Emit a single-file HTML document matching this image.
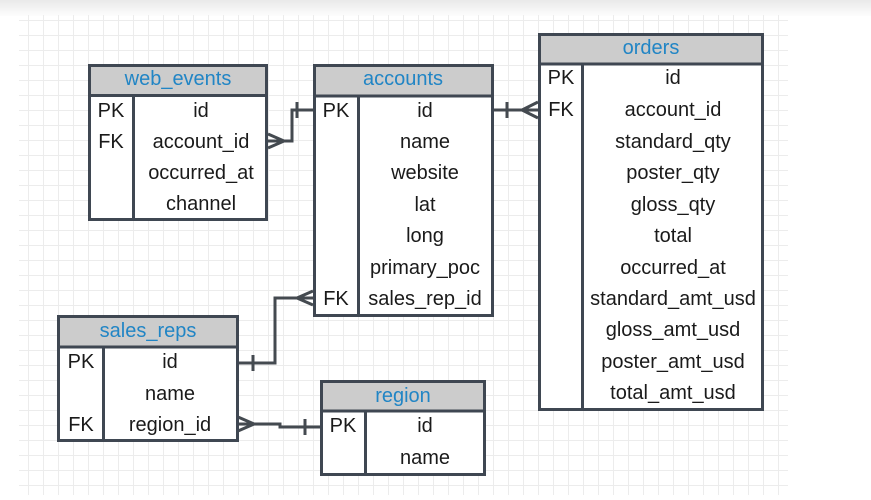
<!DOCTYPE html>
<html><head><meta charset="utf-8"><style>
html,body{margin:0;padding:0;background:#fff;}
svg{display:block;font-family:"Liberation Sans",sans-serif;}
</style></head><body>
<svg width="871" height="500" viewBox="0 0 871 500" xmlns="http://www.w3.org/2000/svg">
<defs>
<linearGradient id="tg" x1="0" y1="0" x2="0" y2="1"><stop offset="0" stop-color="#e9e9e9"/><stop offset="1" stop-color="#fdfdfd"/></linearGradient>
<pattern id="grid" x="13" y="5" width="15" height="15" patternUnits="userSpaceOnUse">
<path d="M0.5 0V15M0 0.5H15" stroke="#ececec" stroke-width="1" fill="none"/>
</pattern>
</defs>
<rect width="871" height="500" fill="#fff"/>
<rect width="871" height="16" fill="url(#tg)"/>
<rect x="19" y="15" width="769" height="480" fill="url(#grid)"/>

<g fill="none" stroke="#444a50" stroke-width="3">
<path d="M268 141H292V110H313"/>
<path d="M268 134L284 141L268 148"/>
<path d="M297 102V118"/>
<path d="M493 110H538"/>
<path d="M507 102V118"/>
<path d="M538 102L522 110L538 118"/>
<path d="M313 298H275V363H238"/>
<path d="M313 291L297 298L313 305"/>
<path d="M253 355V371"/>
<path d="M238 424H280V427H320"/>
<path d="M238 417L254 424L238 431"/>
<path d="M305 419V435"/>
</g>

<g font-size="20" text-anchor="middle">
<rect x="89.5" y="65.5" width="177" height="154" fill="#fff"/>
<rect x="89.5" y="65.5" width="177" height="30" fill="#cccccc"/>
<g stroke="#3f4752" stroke-width="3" fill="none"><rect x="89.5" y="65.5" width="177" height="154"/><path d="M89 95.5H267M133.5 95V220"/></g>
<text x="178" y="85" fill="#2185c5">web_events</text>
<g fill="#1a1a1a"><text x="111" y="117">PK</text><text x="111" y="148">FK</text>
<text x="201" y="117">id</text><text x="201" y="148">account_id</text><text x="201" y="179">occurred_at</text><text x="201" y="210">channel</text></g>

<rect x="314.5" y="65.5" width="178" height="250" fill="#fff"/>
<rect x="314.5" y="65.5" width="178" height="30" fill="#cccccc"/>
<g stroke="#3f4752" stroke-width="3" fill="none"><rect x="314.5" y="65.5" width="178" height="250"/><path d="M314 96H493M358.5 96V316"/></g>
<text x="403" y="85" fill="#2185c5">accounts</text>
<g fill="#1a1a1a"><text x="336" y="117">PK</text><text x="336" y="305">FK</text>
<text x="425" y="117">id</text><text x="425" y="148">name</text><text x="425" y="179">website</text><text x="425" y="211">lat</text><text x="425" y="242">long</text><text x="425" y="274">primary_poc</text><text x="425" y="305">sales_rep_id</text></g>

<rect x="539.5" y="34.5" width="223" height="375" fill="#fff"/>
<rect x="539.5" y="34.5" width="223" height="29" fill="#cccccc"/>
<g stroke="#3f4752" stroke-width="3" fill="none"><rect x="539.5" y="34.5" width="223" height="375"/><path d="M539 64H763M582.5 64V410"/></g>
<text x="651" y="54" fill="#2185c5">orders</text>
<g fill="#1a1a1a"><text x="561" y="84">PK</text><text x="561" y="116">FK</text>
<text x="673" y="84">id</text><text x="673" y="116">account_id</text><text x="673" y="148">standard_qty</text><text x="673" y="179">poster_qty</text><text x="673" y="211">gloss_qty</text><text x="673" y="242">total</text><text x="673" y="274">occurred_at</text><text x="673" y="305">standard_amt_usd</text><text x="673" y="336">gloss_amt_usd</text><text x="673" y="368">poster_amt_usd</text><text x="673" y="399">total_amt_usd</text></g>

<rect x="58.5" y="316.5" width="179" height="124" fill="#fff"/>
<rect x="58.5" y="316.5" width="179" height="30" fill="#cccccc"/>
<g stroke="#3f4752" stroke-width="3" fill="none"><rect x="58.5" y="316.5" width="179" height="124"/><path d="M58 347H238M103.5 347V441"/></g>
<text x="148" y="337" fill="#2185c5">sales_reps</text>
<g fill="#1a1a1a"><text x="81" y="368">PK</text><text x="81" y="431">FK</text>
<text x="170" y="368">id</text><text x="170" y="400">name</text><text x="170" y="431">region_id</text></g>

<rect x="321.5" y="381.5" width="163" height="93" fill="#fff"/>
<rect x="321.5" y="381.5" width="163" height="29" fill="#cccccc"/>
<g stroke="#3f4752" stroke-width="3" fill="none"><rect x="321.5" y="381.5" width="163" height="93"/><path d="M321 411H485M365.5 411V475"/></g>
<text x="403" y="402" fill="#2185c5">region</text>
<g fill="#1a1a1a"><text x="343" y="432">PK</text>
<text x="425" y="432">id</text><text x="425" y="464">name</text></g>
</g>
</svg>
</body></html>
